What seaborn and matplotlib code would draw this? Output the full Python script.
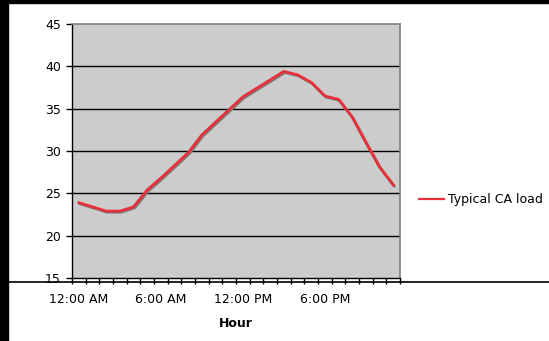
import matplotlib
matplotlib.use("Agg")
import matplotlib.pyplot as plt
import matplotlib.patheffects as pe
from matplotlib.patches import Rectangle
from matplotlib.lines import Line2D
import seaborn as sns
import numpy as np
import pandas as pd

# hourly load (GW)
hours = list(range(24))
load = [23.9, 23.4, 22.9, 22.9, 23.4, 25.4, 26.8, 28.3, 29.8, 31.9, 33.4, 34.9,
        36.4, 37.4, 38.4, 39.4, 39.0, 38.1, 36.5, 36.1, 34.0, 31.0, 28.1, 26.0]
tick_pos = [0, 6, 12, 18]
tick_labels = ["12:00 AM", "6:00 AM", "12:00 PM", "6:00 PM"]
y_ticks = [15, 20, 25, 30, 35, 40, 45]

df = pd.DataFrame({"hour": hours, "load": load})

plt.rcParams["font.family"] = ["DejaVu Sans"]
fig = plt.figure(figsize=(5.49, 3.41), dpi=100)
ax = fig.add_axes([72/549, 1 - 278/341, 328/549, 254/341])
ax.set_facecolor("#CCCCCC")

red = "#E8303A"
sns.lineplot(data=df, x="hour", y="load", ax=ax, color=red, linewidth=2.0,
             legend=False,
             path_effects=[pe.SimpleLineShadow(offset=(0.8, -0.8), shadow_color="#7A7A7A", alpha=1),
                           pe.Normal()])

# grid lines
for v in y_ticks[1:-1]:
    ax.axhline(v, color="black", linewidth=1, zorder=1)

ax.set_xlim(-0.5, 23.5)
ax.set_ylim(15, 45)
ax.set_yticks(y_ticks)
ax.set_yticklabels([str(v) for v in y_ticks], fontsize=9)
ax.tick_params(axis="y", length=4, width=1, color="black", pad=4)

ax.set_xticks(tick_pos)
ax.set_xticklabels(tick_labels, fontsize=9)
ax.set_xticks(np.arange(-0.5, 24, 1), minor=True)
ax.tick_params(axis="x", which="major", length=0, pad=11)
ax.tick_params(axis="x", which="minor", length=4, width=1, color="black")

ax.set_xlabel("Hour", fontsize=9, fontweight="bold", labelpad=8)
ax.set_ylabel("")

for s in ["left", "bottom"]:
    ax.spines[s].set_color("black")
    ax.spines[s].set_linewidth(1)
for s in ["top", "right"]:
    ax.spines[s].set_color("#808080")
    ax.spines[s].set_linewidth(1.2)

handle = Line2D([], [], color=red, linewidth=1.6)
ax.legend([handle], ["Typical CA load"], loc="center left",
          bbox_to_anchor=(419/549, 1 - 200/341),
          bbox_transform=fig.transFigure, frameon=False, fontsize=9,
          handlelength=2.0, handletextpad=0.35, borderpad=0, borderaxespad=0)

# black border strips and the long rule under the chart
fig.patches.append(Rectangle((0, 0), 8/549, 1, transform=fig.transFigure,
                             color="black", zorder=10))
fig.patches.append(Rectangle((0, 1 - 3/341), 1, 3/341, transform=fig.transFigure,
                             color="black", zorder=10))
fig.lines.append(Line2D([8/549, 1], [1 - 282/341, 1 - 282/341], transform=fig.transFigure,
                        color="black", linewidth=1.2))

fig.savefig("out.png", dpi=100)
